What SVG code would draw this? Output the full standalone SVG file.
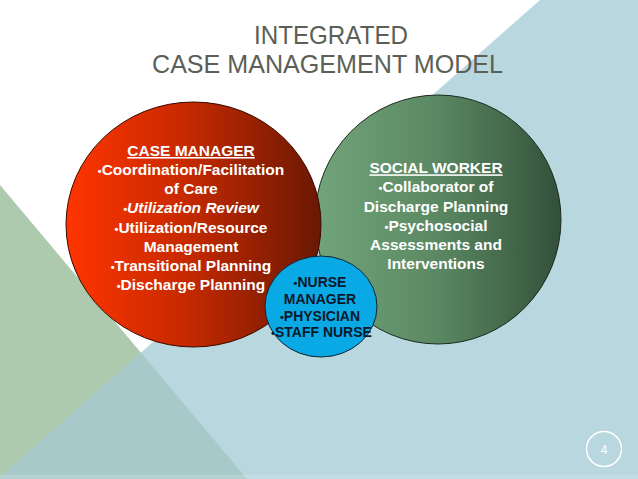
<svg xmlns="http://www.w3.org/2000/svg" width="638" height="479" viewBox="0 0 638 479">
  <defs>
    <linearGradient id="gRed" x1="0" y1="0" x2="1" y2="0">
      <stop offset="0" stop-color="#ff3500"/>
      <stop offset="0.45" stop-color="#c92a00"/>
      <stop offset="1" stop-color="#6a1804"/>
    </linearGradient>
    <linearGradient id="gGreen" x1="0" y1="0" x2="1" y2="0">
      <stop offset="0" stop-color="#72a47a"/>
      <stop offset="0.5" stop-color="#5a8862"/>
      <stop offset="1" stop-color="#33503a"/>
    </linearGradient>
    <clipPath id="ovl"><polygon points="0,185 247,479 0,479"/></clipPath>
    <style>
      .title { font-family: "Liberation Sans", Arial, sans-serif; font-size: 26px; fill: #5b5f56; }
      .wt { font-family: "Liberation Sans", Arial, sans-serif; font-size: 15.5px; font-weight: bold; fill: #ffffff; text-anchor: middle; }
      .bt { font-family: "Liberation Sans", Arial, sans-serif; font-size: 14px; font-weight: bold; fill: #0c1828; text-anchor: middle; }
      .bul { font-size: 11px; }
      .ul { text-decoration: underline; }
    </style>
  </defs>

  <g id="background">
    <rect x="0" y="0" width="638" height="479" fill="#ffffff"/>
    <polygon points="0,185 247,479 0,479" fill="#adc9ae"/>
    <polygon points="540,0 638,0 638,479 -2,479" fill="#b8d7de"/>
    <polygon points="540,0 638,0 638,479 -2,479" fill="#a8c9ca" clip-path="url(#ovl)"/>
    <rect x="0" y="475" width="638" height="4" fill="#ffffff" opacity="0.15"/>
  </g>

  <g id="title">
    <text class="title" x="254" y="44" textLength="154" lengthAdjust="spacingAndGlyphs">INTEGRATED</text>
    <text class="title" x="152" y="73" textLength="351" lengthAdjust="spacingAndGlyphs">CASE MANAGEMENT MODEL</text>
  </g>

  <g id="connectors"></g>

  <g id="node-social-worker">
    <ellipse cx="438" cy="219.5" rx="123" ry="124.5" fill="url(#gGreen)" stroke="#1c2a1e" stroke-width="1"/>
    <text class="wt" x="436" y="173.3"><tspan class="ul">SOCIAL WORKER</tspan></text>
    <text class="wt" x="436" y="192.3"><tspan class="bul">•</tspan>Collaborator of</text>
    <text class="wt" x="436" y="211.7">Discharge Planning</text>
    <text class="wt" x="436" y="230.5"><tspan class="bul">•</tspan>Psychosocial</text>
    <text class="wt" x="436" y="250">Assessments and</text>
    <text class="wt" x="436" y="269">Interventions</text>
  </g>

  <g id="node-case-manager">
    <ellipse cx="193.5" cy="224.5" rx="127.5" ry="122.5" fill="url(#gRed)" stroke="#3a0800" stroke-width="1"/>
    <text class="wt" x="191" y="156"><tspan class="ul">CASE MANAGER</tspan></text>
    <text class="wt" x="191" y="175"><tspan class="bul">•</tspan>Coordination/Facilitation</text>
    <text class="wt" x="191" y="194">of Care</text>
    <text class="wt" x="191" y="213.3" font-style="italic"><tspan class="bul">•</tspan>Utilization Review</text>
    <text class="wt" x="191" y="232.5"><tspan class="bul">•</tspan>Utilization/Resource</text>
    <text class="wt" x="191" y="251.7">Management</text>
    <text class="wt" x="191" y="271"><tspan class="bul">•</tspan>Transitional Planning</text>
    <text class="wt" x="191" y="290"><tspan class="bul">•</tspan>Discharge Planning</text>
  </g>

  <g id="node-nurse">
    <ellipse cx="321" cy="306.5" rx="56" ry="50.5" fill="#09a9e6" stroke="#14222e" stroke-width="1"/>
    <text class="bt" x="320" y="287.3"><tspan class="bul">•</tspan>NURSE</text>
    <text class="bt" x="320" y="304">MANAGER</text>
    <text class="bt" x="320" y="320.7"><tspan class="bul">•</tspan>PHYSICIAN</text>
    <text class="bt" x="321.5" y="337.3"><tspan class="bul">•</tspan>STAFF NURSE</text>
  </g>

  <g id="slide-number">
    <circle cx="604" cy="449" r="17.5" fill="none" stroke="#ffffff" stroke-width="1.5"/>
    <text x="604" y="453.5" font-family="'Liberation Sans', Arial, sans-serif" font-size="12" fill="#ffffff" text-anchor="middle">4</text>
  </g>
</svg>
